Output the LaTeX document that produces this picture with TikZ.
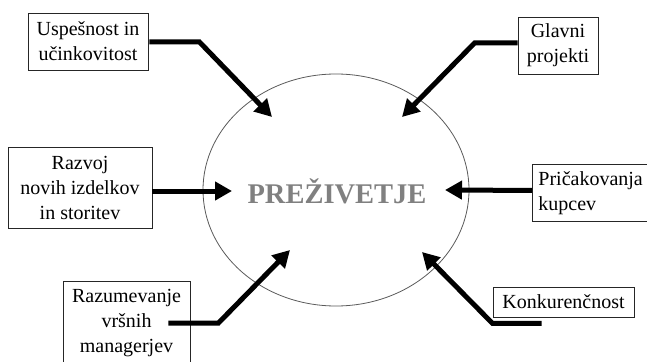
\documentclass[tikz,border=0pt]{standalone}
\usepackage{fontspec}
\setmainfont{Liberation Serif}
\usetikzlibrary{arrows.meta,calc}
\begin{document}
\begin{tikzpicture}[x=1pt,y=-1pt,
  factor/.style={draw=black!85,line width=0.9pt,fill=white,inner sep=0pt,
    font=\fontsize{20}{25}\selectfont,align=center},
  push/.style={line width=5pt,line join=miter,
    -{Triangle[length=17pt,width=18pt]}},
  core/.style={font=\fontsize{28.5}{30}\selectfont\bfseries,text=black!50}]
\useasboundingbox (0,0) rectangle (647,361);

% central ellipse and its label
\draw[draw=black!65,line width=0.8pt] (336,190) ellipse [x radius=133,y radius=116];
\node[core] (core) at (337,191) {PREŽIVETJE};

% factors around it
\node[factor,minimum width=120pt,minimum height=57pt] (b1) at (88,41.5)
  {Uspešnost in\\učinkovitost};
\node[factor,minimum width=80pt,minimum height=57pt] (b2) at (558,45.5)
  {Glavni\\projekti};
\node[factor,minimum width=144pt,minimum height=81pt] (b3) at (80,187.5)
  {Razvoj\\novih izdelkov\\in storitev};
\node[factor,minimum width=127pt,minimum height=84pt] (b4) at (126.5,323)
  {Razumevanje\\vršnih\\managerjev};
\node[factor,align=left,anchor=north west,inner sep=6pt,text width=116pt,
  minimum height=57pt] (b5) at (532,164) {Pričakovanja\\kupcev};
\node[factor,minimum width=141pt,minimum height=30pt] (b6) at (563.5,302)
  {Konkurenčnost};

% arrows pointing into the ellipse
\coordinate (t1) at (272,117);
\coordinate (t2) at (402,117);
\coordinate (t3) at (232,191);
\coordinate (t4) at (290,250);
\coordinate (t5) at (445,190);
\coordinate (t6) at (422,252);

\draw[push] ($(b1.east)+(1,0.5)$) -- ++(50,0) -- (t1);
\draw[push] ($(b2.west)+(0,-2.5)$) -- ++(-43,0) -- (t2);
\draw[push] ($(b3.east)+(0,3.5)$) -- (t3);
\draw[push] ($(b4.east)+(-22,0)$) -- ++(50,0) -- (t4);
\draw[push] ($(b5.west)+(0,-2.5)$) -- (t5);
\draw[push] ($(b6.south west)+(49,6)$) -- ++(-49,0) -- (t6);
\end{tikzpicture}
\end{document}
